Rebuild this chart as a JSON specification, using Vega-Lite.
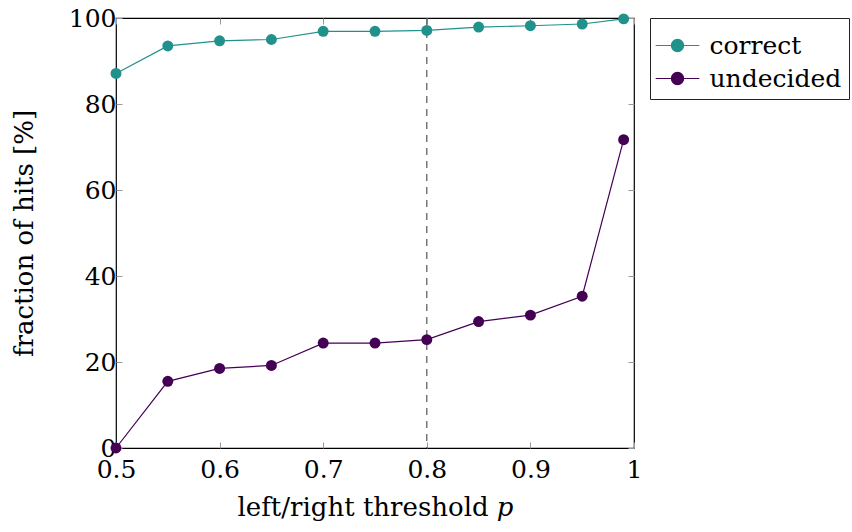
{
  "$schema": "https://vega.github.io/schema/vega-lite/v6.json",
  "autosize": "none",
  "width": 518,
  "height": 430,
  "padding": {"left": 116, "top": 18, "right": 218, "bottom": 84},
  "background": "white",
  "config": {
    "font": "DejaVu Serif",
    "view": {"stroke": "black", "strokeWidth": 1.2},
    "axis": {"labelFont": "DejaVu Serif", "titleFont": "DejaVu Serif", "labelFontSize": 25, "titleFontSize": 26, "titleFontWeight": "normal", "labelColor": "black", "titleColor": "black", "grid": false, "domain": false, "tickColor": "#999", "tickSize": -6, "tickWidth": 1}
  },
  "datasets": {
    "hits": [
      {"p": 0.5, "series": "correct", "value": 87.1},
      {"p": 0.55, "series": "correct", "value": 93.5},
      {"p": 0.6, "series": "correct", "value": 94.7},
      {"p": 0.65, "series": "correct", "value": 95.0},
      {"p": 0.7, "series": "correct", "value": 96.9},
      {"p": 0.75, "series": "correct", "value": 96.9},
      {"p": 0.8, "series": "correct", "value": 97.1},
      {"p": 0.85, "series": "correct", "value": 97.9},
      {"p": 0.9, "series": "correct", "value": 98.2},
      {"p": 0.95, "series": "correct", "value": 98.6},
      {"p": 0.99, "series": "correct", "value": 99.8},
      {"p": 0.5, "series": "undecided", "value": 0},
      {"p": 0.55, "series": "undecided", "value": 15.5},
      {"p": 0.6, "series": "undecided", "value": 18.5},
      {"p": 0.65, "series": "undecided", "value": 19.2},
      {"p": 0.7, "series": "undecided", "value": 24.4},
      {"p": 0.75, "series": "undecided", "value": 24.4},
      {"p": 0.8, "series": "undecided", "value": 25.2},
      {"p": 0.85, "series": "undecided", "value": 29.4},
      {"p": 0.9, "series": "undecided", "value": 30.9},
      {"p": 0.95, "series": "undecided", "value": 35.3},
      {"p": 0.99, "series": "undecided", "value": 71.7}
    ],
    "threshold": [{"p": 0.8}]
  },
  "resolve": {"axis": {"x": "independent", "y": "independent"}},
  "layer": [
    {
      "data": {"name": "threshold"},
      "mark": {"type": "rule", "color": "#555", "strokeDash": [7, 6], "strokeWidth": 1.2},
      "encoding": {
        "x": {"field": "p", "type": "quantitative", "scale": {"domain": [0.5, 1], "nice": false, "zero": false},
              "axis": {"orient": "top", "labels": false, "title": null, "values": [0.5, 0.6, 0.7, 0.8, 0.9, 1]}}
      }
    },
    {
      "data": {"name": "hits"},
      "encoding": {
        "x": {"field": "p", "type": "quantitative", "scale": {"domain": [0.5, 1], "nice": false, "zero": false},
              "axis": {"orient": "bottom", "title": "left/right threshold 𝑝", "values": [0.5, 0.6, 0.7, 0.8, 0.9, 1], "format": "~g", "labelPadding": 15, "titlePadding": 12, "labelFlush": false}},
        "y": {"field": "value", "type": "quantitative", "scale": {"domain": [0, 100], "nice": false},
              "axis": {"orient": "left", "title": "fraction of hits [%]", "values": [0, 20, 40, 60, 80, 100], "labelPadding": 6, "titlePadding": 31}},
        "color": {"field": "series", "type": "nominal",
                  "scale": {"domain": ["correct", "undecided"], "range": ["#21918c", "#440154"]},
                  "legend": {"orient": "none", "legendX": 534, "legendY": 0, "title": null,
                             "labelFont": "DejaVu Serif", "labelFontSize": 25, "labelColor": "black",
                             "strokeColor": "#222", "fillColor": "white", "padding": 7.5, "rowPadding": 0,
                             "symbolType": "M-1.15,0H1.15M-0.32,0A0.32,0.32 0 1,1 0.32,0A0.32,0.32 0 1,1 -0.32,0Z",
                             "symbolSize": 1444, "symbolStrokeWidth": 1.2, "labelOffset": 12}}
      },
      "layer": [
        {"mark": {"type": "line", "strokeWidth": 1.2}},
        {"mark": {"type": "point", "filled": true, "size": 120, "opacity": 1}}
      ]
    },
    {
      "data": {"name": "hits"},
      "mark": {"type": "point", "opacity": 0},
      "encoding": {
        "y": {"field": "value", "type": "quantitative", "scale": {"domain": [0, 100], "nice": false},
              "axis": {"orient": "right", "labels": false, "title": null, "values": [0, 20, 40, 60, 80, 100]}}
      }
    }
  ]
}
